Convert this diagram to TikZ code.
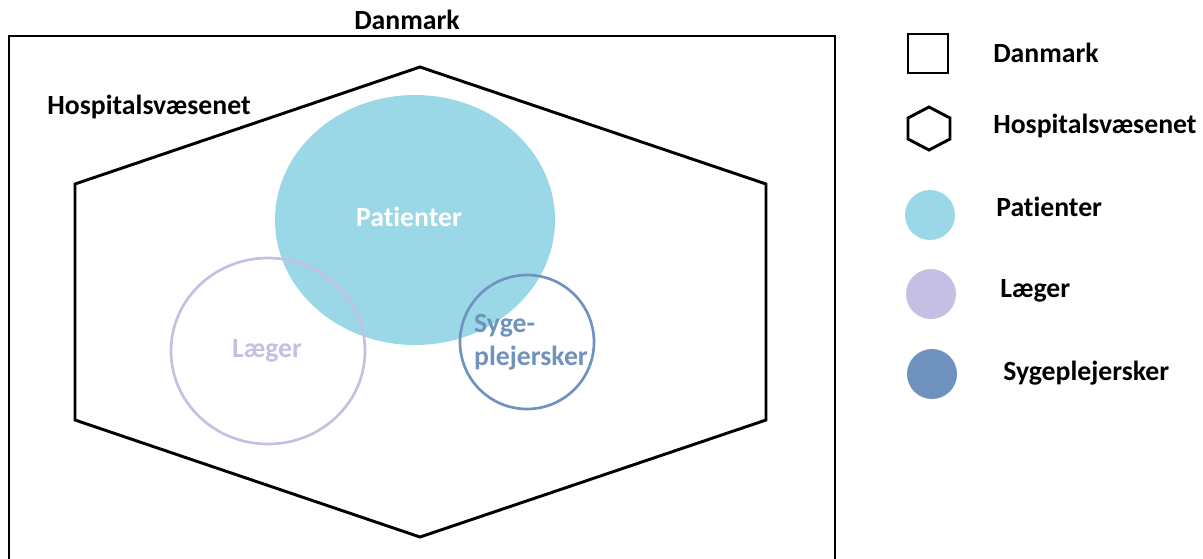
\documentclass[tikz,border=0pt]{standalone}
\usepackage{fontspec}
\setmainfont{Carlito}[Ligatures=NoCommon]
\usetikzlibrary{positioning}

\definecolor{patcol}{HTML}{9AD8E8}
\definecolor{laegcol}{HTML}{C6BFE4}
\definecolor{sygcol}{HTML}{6F92BF}

\tikzset{
	lbl/.style={font=\bfseries\fontsize{20.8}{24}\selectfont, inner sep=0pt},
	legtxt/.style={lbl, anchor=west},
	edge/.style={line width=2.2pt, line join=miter},
}

\begin{document}
\begin{tikzpicture}[x=0.75pt, y=-0.75pt]
				\useasboundingbox (0,0) rectangle (1203,558);
				\begin{scope}
					\clip (0,0) rectangle (1203,558);
					% Danmark
					\draw [edge] (9,36) rectangle (835,580);
					% Hospitalsvaesenet
					\draw [edge] (420,67) -- (766,184) -- (766,420) -- (420,537) -- (75,420) -- (75,184) -- cycle;
				\end{scope}
				
				\fill [patcol] (415,220) ellipse (140 and 125);
				\draw [laegcol, line width=2pt] (268,351) ellipse (97 and 93);
				\draw [sygcol, line width=2pt] (527,342) circle (67);
				
				\node [lbl] (danmark) at (407,20) {Danmark};
				\node [lbl] (hosp) at (149,107) {Hospitalsvæsenet};
				\node [lbl, text=white] (pat) at (409,217) {Patienter};
				\node [lbl, text=laegcol] (laeg) at (267,351) {Læger};
				\node [lbl, text=sygcol, align=left] (syg) at (531,342) {Syge-\\[1pt]plejersker};
				
				% legend
				\draw [edge] (908,34) rectangle (948,73);
				\draw [edge] (929,107) -- (950,118) -- (950,139) -- (929,150) -- (908,139) -- (908,118) -- cycle;
				\fill [patcol] (930,215) circle (25);
				\fill [laegcol] (931,294) circle (25);
				\fill [sygcol] (932,374) circle (25);
				
				\node [legtxt] (l1) at (993,53) {Danmark};
				\node [legtxt] (l2) at (993,126) {Hospitalsvæsenet};
				\node [legtxt] (l3) at (996,207) {Patienter};
				\node [legtxt] (l4) at (1000,291) {Læger};
				\node [legtxt] (l5) at (1003,373) {Sygeplejersker};
			\end{tikzpicture}
\end{document}
